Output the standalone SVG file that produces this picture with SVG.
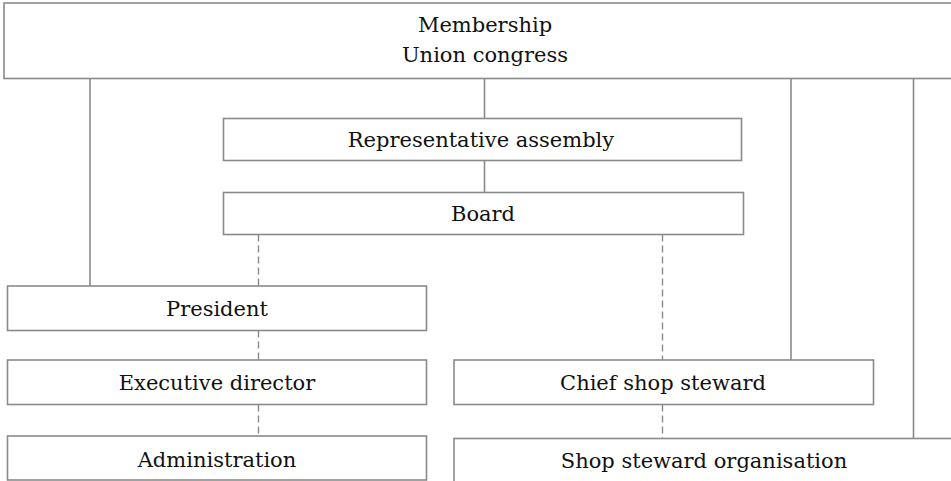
<svg xmlns="http://www.w3.org/2000/svg" width="951" height="481" viewBox="0 0 951 481">
  <style>
    .box { fill: #ffffff; stroke: #8a8a8a; stroke-width: 1.6; }
    .line { fill: none; stroke: #8a8a8a; stroke-width: 1.6; }
    .dash { fill: none; stroke: #8a8a8a; stroke-width: 1.4; stroke-dasharray: 7 4; }
    .label { font-family: "DejaVu Serif", "Liberation Serif", serif; font-size: 21px; fill: #111111; text-anchor: middle; }
  </style>
  <rect width="951" height="481" fill="#ffffff"/>

  <!-- connectors -->
  <g id="connectors">
    <line class="line" x1="90" y1="78.5" x2="90" y2="286"/>
    <line class="line" x1="484.5" y1="78.5" x2="484.5" y2="118.5"/>
    <line class="line" x1="484.5" y1="160.5" x2="484.5" y2="192.5"/>
    <line class="line" x1="791" y1="78.5" x2="791" y2="360"/>
    <line class="line" x1="913.5" y1="78.5" x2="913.5" y2="438.5"/>
    <line class="dash" x1="258.5" y1="234.5" x2="258.5" y2="286"/>
    <line class="dash" x1="258.5" y1="330.5" x2="258.5" y2="360"/>
    <line class="dash" x1="258.5" y1="404.5" x2="258.5" y2="436"/>
    <line class="dash" x1="662.5" y1="234.5" x2="662.5" y2="360"/>
    <line class="dash" x1="662.5" y1="404.5" x2="662.5" y2="438.5"/>
  </g>

  <g id="membership">
    <rect class="box" x="4" y="3" width="960" height="75.5"/>
    <text class="label" x="485" y="31.5">Membership</text>
    <text class="label" x="485" y="61.5">Union congress</text>
  </g>

  <g id="representative-assembly">
    <rect class="box" x="223.5" y="118.5" width="518" height="42"/>
    <text class="label" x="481" y="147">Representative assembly</text>
  </g>

  <g id="board">
    <rect class="box" x="223.5" y="192.5" width="520" height="42"/>
    <text class="label" x="483" y="221">Board</text>
  </g>

  <g id="president">
    <rect class="box" x="7.5" y="286" width="419" height="44.5"/>
    <text class="label" x="217" y="316">President</text>
  </g>

  <g id="executive-director">
    <rect class="box" x="7.5" y="360" width="419" height="44.5"/>
    <text class="label" x="217" y="390">Executive director</text>
  </g>

  <g id="administration">
    <rect class="box" x="7.5" y="436" width="419" height="44"/>
    <text class="label" x="217" y="466.5">Administration</text>
  </g>

  <g id="chief-shop-steward">
    <rect class="box" x="454" y="360" width="419.5" height="44.5"/>
    <text class="label" x="663" y="390">Chief shop steward</text>
  </g>

  <g id="shop-steward-organisation">
    <rect class="box" x="454" y="438.5" width="510" height="60"/>
    <text class="label" x="704" y="467.5">Shop steward organisation</text>
  </g>
</svg>
